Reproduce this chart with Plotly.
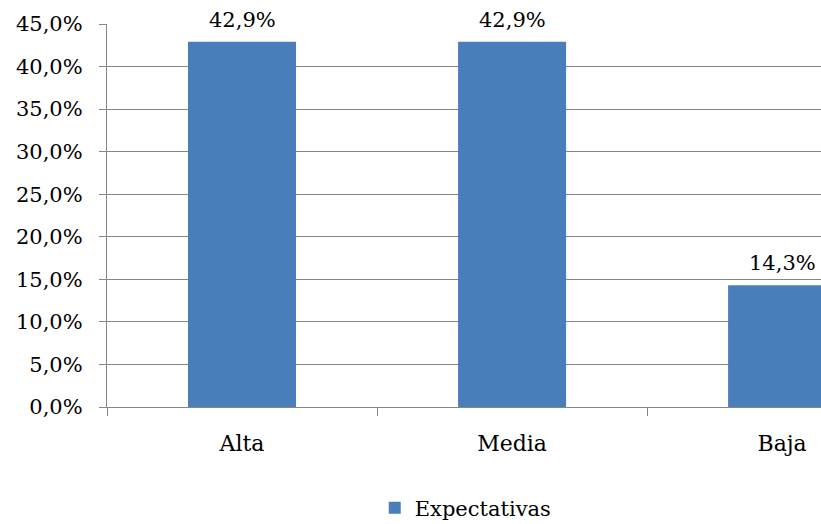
import plotly.graph_objects as go

categories = ["Alta", "Media", "Baja"]
values = [42.9, 42.9, 14.3]
labels = ["42,9%", "42,9%", "14,3%"]
series_name = "Expectativas"
y_ticks = [0, 5, 10, 15, 20, 25, 30, 35, 40, 45]
y_tick_text = ["0,0%", "5,0%", "10,0%", "15,0%", "20,0%", "25,0%", "30,0%", "35,0%", "40,0%", "45,0%"]

FONT = "DejaVu Serif"
GRID = "#868686"
BAR = "#4a7ebb"

fig = go.Figure()
fig.add_trace(go.Bar(
    x=categories, y=values, name=series_name,
    marker=dict(color=BAR, line=dict(width=0)),
    width=0.4, showlegend=True,
))
for c, v, t in zip(categories, values, labels):
    fig.add_annotation(x=c, y=v, text=t, showarrow=False, yanchor="bottom",
                       yshift=8, font=dict(family=FONT, size=21, color="#000000"))

fig.update_layout(
    width=821, height=524,
    margin=dict(l=107, r=0, t=24, b=117, autoexpand=False),
    paper_bgcolor="white", plot_bgcolor="white",
    font=dict(family=FONT, size=21, color="#000000"),
    showlegend=True,
    legend=dict(orientation="h", x=0.375, xanchor="left", y=-0.264, yanchor="middle",
                font=dict(family=FONT, size=21), itemwidth=30),
    xaxis=dict(
        type="category", range=[-0.5, 2.144], tickson="boundaries",
        showline=True, linecolor=GRID, linewidth=1.3,
        ticks="outside", ticklen=8, tickcolor=GRID, tickwidth=1.3,
        showgrid=False, ticklabelstandoff=16,
        tickfont=dict(family=FONT, size=22),
    ),
    yaxis=dict(
        range=[0, 45], tickvals=y_ticks, ticktext=y_tick_text,
        showline=True, linecolor=GRID, linewidth=1.3,
        ticks="outside", ticklen=7, tickcolor=GRID, tickwidth=1.3,
        showgrid=True, gridcolor=GRID, gridwidth=1.3, zeroline=False,
        ticklabelstandoff=12,
        tickfont=dict(family=FONT, size=21),
    ),
)
fig.write_html("out.html")
